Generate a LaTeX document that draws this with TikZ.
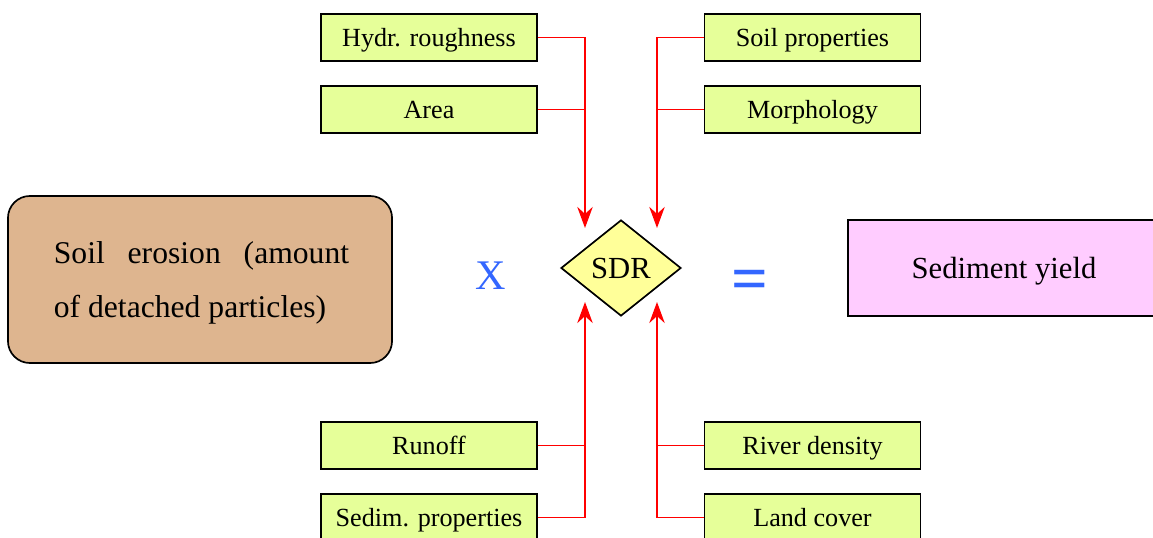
\documentclass[tikz,border=0pt]{standalone}
\usepackage{fontspec}
\setmainfont{Liberation Serif}
\usetikzlibrary{shapes.geometric,arrows.meta}
\definecolor{factorgreen}{RGB}{230,255,153}
\definecolor{sdryellow}{RGB}{255,255,153}
\definecolor{yieldpink}{RGB}{255,204,255}
\definecolor{erosionbrown}{RGB}{222,181,143}
\definecolor{opblue}{RGB}{51,102,255}
\begin{document}
\begin{tikzpicture}[x=0.025cm,y=-0.025cm,
  factor/.style={draw,line width=1.2pt,fill=factorgreen,minimum width=5.4cm,minimum height=1.175cm,inner sep=0pt,text height=12.5pt,text depth=0pt,font=\fontsize{18.6}{22}\selectfont},
  link/.style={draw=red,line width=1.4pt},
  flow/.style={link,-{Stealth[length=15pt,width=11pt,inset=5pt]}},
  opsign/.style={text=opblue,inner sep=0pt}]
\useasboundingbox (0,0) rectangle (1153,538);
\node[draw,line width=1.2pt,fill=erosionbrown,rounded corners=0.55cm,minimum width=9.6cm,minimum height=4.175cm,inner sep=0pt] (erosion) at (200,279.5) {};
\node[text width=210pt,align=justify,inner sep=0pt,font=\fontsize{22.5}{38}\selectfont] (erosiontext) at (201.5,283) {Soil erosion (amount\linebreak of detached particles)};
\node[opsign,font=\fontsize{30}{36}\selectfont] (times) at (491,276) {X};
\node[diamond,draw,line width=1.2pt,fill=sdryellow,minimum width=3cm,minimum height=2.4cm,aspect=1.25,inner sep=0pt,text height=15pt,text depth=0pt,font=\fontsize{21.8}{26}\selectfont] (sdr) at (621,268) {SDR};
\node[opsign,font=\fontsize{46}{50}\selectfont\bfseries] (equals) at (750,285) {=};
\node[draw,line width=1.2pt,fill=yieldpink,minimum width=7.8cm,minimum height=2.4cm,inner sep=0pt,text height=15pt,text depth=0pt,font=\fontsize{21.8}{26}\selectfont] (yield) at (1004,268) {Sediment yield};
\node[factor] (rough) at (429,37.5) {Hydr. roughness};
\node[factor] (area) at (429,109.5) {Area};
\node[factor] (runoff) at (429,445.5) {Runoff};
\node[factor] (sedim) at (429,517.5) {Sedim. properties};
\node[factor] (soil) at (812.5,37.5) {Soil properties};
\node[factor] (morph) at (812.5,109.5) {Morphology};
\node[factor] (river) at (812.5,445.5) {River density};
\node[factor] (land) at (812.5,517.5) {Land cover};
\coordinate (tipnw) at (585,228);
\coordinate (tipne) at (657,228);
\coordinate (tipsw) at (585,302);
\coordinate (tipse) at (657,302);
\draw[flow] (rough.east) -| (tipnw);
\draw[link] (area.east) -- (area.east -| tipnw);
\draw[flow] (soil.west) -| (tipne);
\draw[link] (morph.west) -- (morph.west -| tipne);
\draw[flow] (sedim.east) -| (tipsw);
\draw[link] (runoff.east) -- (runoff.east -| tipsw);
\draw[flow] (land.west) -| (tipse);
\draw[link] (river.west) -- (river.west -| tipse);
\end{tikzpicture}
\end{document}
